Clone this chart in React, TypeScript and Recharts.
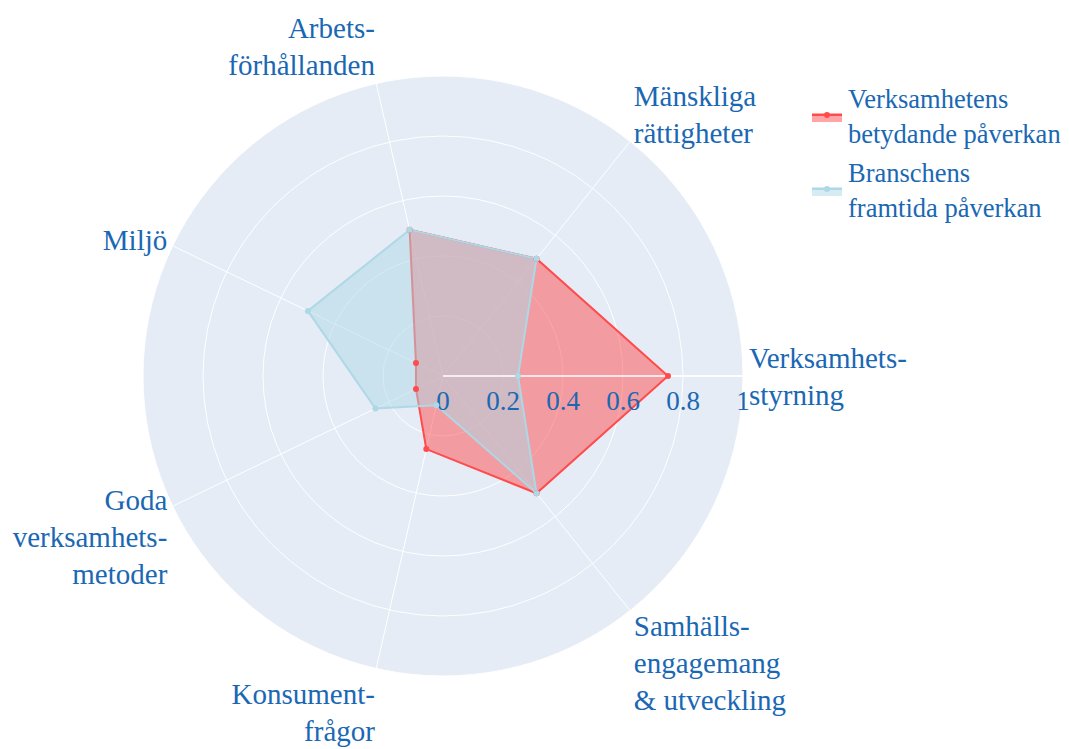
import React from 'react';
import { RadarChart, Radar, PolarGrid, PolarAngleAxis, PolarRadiusAxis, Legend } from 'recharts';

const categories = [
  'Verksamhetsstyrning',
  'Mänskliga rättigheter',
  'Arbetsförhållanden',
  'Miljö',
  'Goda verksamhetsmetoder',
  'Konsumentfrågor',
  'Samhällsengagemang & utveckling',
];

const categoryLabels = [
  ['Verksamhets-', 'styrning'],
  ['Mänskliga', 'rättigheter'],
  ['Arbets-', 'förhållanden'],
  ['Miljö'],
  ['Goda', 'verksamhets-', 'metoder'],
  ['Konsument-', 'frågor'],
  ['Samhälls-', 'engagemang', '& utveckling'],
];

const verksamhetValues = [0.75, 0.5, 0.5, 0.1, 0.1, 0.25, 0.5];
const branschValues = [0.25, 0.5, 0.5, 0.5, 0.25, 0.1, 0.5];

const radiusTicks = [0, 0.2, 0.4, 0.6, 0.8, 1];

const seriesNames = ['Verksamhetens betydande påverkan', 'Branschens framtida påverkan'];

const data = categories.map((category, i) => ({
  category,
  verksamhet: verksamhetValues[i],
  bransch: branschValues[i],
}));

const W = 1069;
const H = 749;
const CX = 443;
const CY = 376;
const R = 300;
const STEP = 360 / categories.length;
// recharts puts radar points one band past startAngle, so start one step back
const START = -STEP;
const TEXT = '#1a68b3';
const FONT = "'Liberation Serif', 'DejaVu Serif', serif";
const RED = '#ff4b4b';
const BLUE = '#add8e6';

const AngleTick = (props: any) => {
  const { payload } = props;
  const idx = categories.indexOf(payload.value);
  const lines = categoryLabels[idx] || [String(payload.value)];
  // same angle the radar points use
  const rad = ((START + STEP * (idx + 1)) * Math.PI) / 180;
  const cos = Math.cos(rad);
  const sin = Math.sin(rad);
  const F = 29;
  const L = 37;
  const pad = 6;
  const ax = CX + R * cos;
  const ay = CY - R * sin;
  const ff = sin > 0 ? 0.2 : 1;
  const x = ax + cos * pad;
  const y0 =
    ay - sin * (pad + F * ff) + Math.abs(cos) * F * 0.35 - 0.5 * (1 + sin) * (lines.length - 1) * L;
  const anchor = cos > 0.1 ? 'start' : cos < -0.1 ? 'end' : 'middle';
  return (
    <text x={x} y={y0} textAnchor={anchor} fill={TEXT} fontSize={F} fontFamily={FONT}>
      {lines.map((ln, i) => (
        <tspan key={i} x={x} y={y0 + i * L}>
          {ln}
        </tspan>
      ))}
    </text>
  );
};

const RadiusTick = (props: any) => {
  const { x, y, payload } = props;
  return (
    <text x={x} y={y + 34} textAnchor="middle" fill={TEXT} fontSize={27} fontFamily={FONT}>
      {String(Number(Number(payload.value).toFixed(2)))}
    </text>
  );
};

const renderLegend = (props: any) => {
  const items = [...(props.payload || [])].sort(
    (a: any, b: any) => seriesNames.indexOf(a.value) - seriesNames.indexOf(b.value)
  );
  return (
    <svg width={269} height={160}>
      {items.map((entry: any, i: number) => {
        const name = String(entry.value);
        const sp = name.indexOf(' ');
        const top = i * 74;
        const sy = top + 35;
        return (
          <g key={name}>
            <rect x={12} y={sy - 2} width={30} height={9} fill={entry.color} fillOpacity={0.5} />
            <line x1={12} x2={42} y1={sy} y2={sy} stroke={entry.color} strokeWidth={2} />
            <circle cx={27} cy={sy} r={3} fill={entry.color} />
            <text x={48} y={top + 28} fill={TEXT} fontSize={26.5} fontFamily={FONT}>
              {name.slice(0, sp)}
            </text>
            <text x={48} y={top + 63} fill={TEXT} fontSize={26.5} fontFamily={FONT}>
              {name.slice(sp + 1)}
            </text>
          </g>
        );
      })}
    </svg>
  );
};

export default function App() {
  return (
    <div
      style={{
        position: 'absolute',
        left: 0,
        top: 0,
        width: W,
        height: H,
        background: '#fff',
        overflow: 'hidden',
        fontFamily: FONT,
      }}
    >
      <div
        style={{
          position: 'absolute',
          left: CX - R,
          top: CY - R,
          width: 2 * R,
          height: 2 * R,
          borderRadius: '50%',
          background: '#e5ecf6',
        }}
      />
      <div style={{ position: 'absolute', left: 0, top: 0 }}>
        <RadarChart
          width={W}
          height={H}
          cx={CX}
          cy={CY}
          outerRadius={R}
          startAngle={START}
          endAngle={START + 360}
          data={data}
          margin={{ top: 0, right: 0, bottom: 0, left: 0 }}
        >
          <PolarGrid gridType="circle" stroke="#ffffff" strokeWidth={1} />
          <PolarAngleAxis dataKey="category" tick={<AngleTick />} tickLine={false} axisLine={false} />
          <Radar
            name={seriesNames[0]}
            dataKey="verksamhet"
            stroke={RED}
            strokeWidth={2}
            fill={RED}
            fillOpacity={0.5}
            dot={{ r: 3, fill: RED, fillOpacity: 1, stroke: 'none' }}
            isAnimationActive={false}
          />
          <Radar
            name={seriesNames[1]}
            dataKey="bransch"
            stroke={BLUE}
            strokeWidth={2}
            fill={BLUE}
            fillOpacity={0.5}
            dot={{ r: 3, fill: BLUE, fillOpacity: 1, stroke: 'none' }}
            isAnimationActive={false}
          />
          <PolarRadiusAxis
            angle={0}
            type="number"
            domain={[0, 1]}
            ticks={radiusTicks}
            tickCount={6}
            axisLine={{ stroke: '#ffffff', strokeWidth: 1.5 }}
            tick={<RadiusTick />}
          />
          <Legend
            content={renderLegend}
            wrapperStyle={{ position: 'absolute', left: 800, top: 80, width: 269, height: 160 }}
          />
        </RadarChart>
      </div>
    </div>
  );
}
